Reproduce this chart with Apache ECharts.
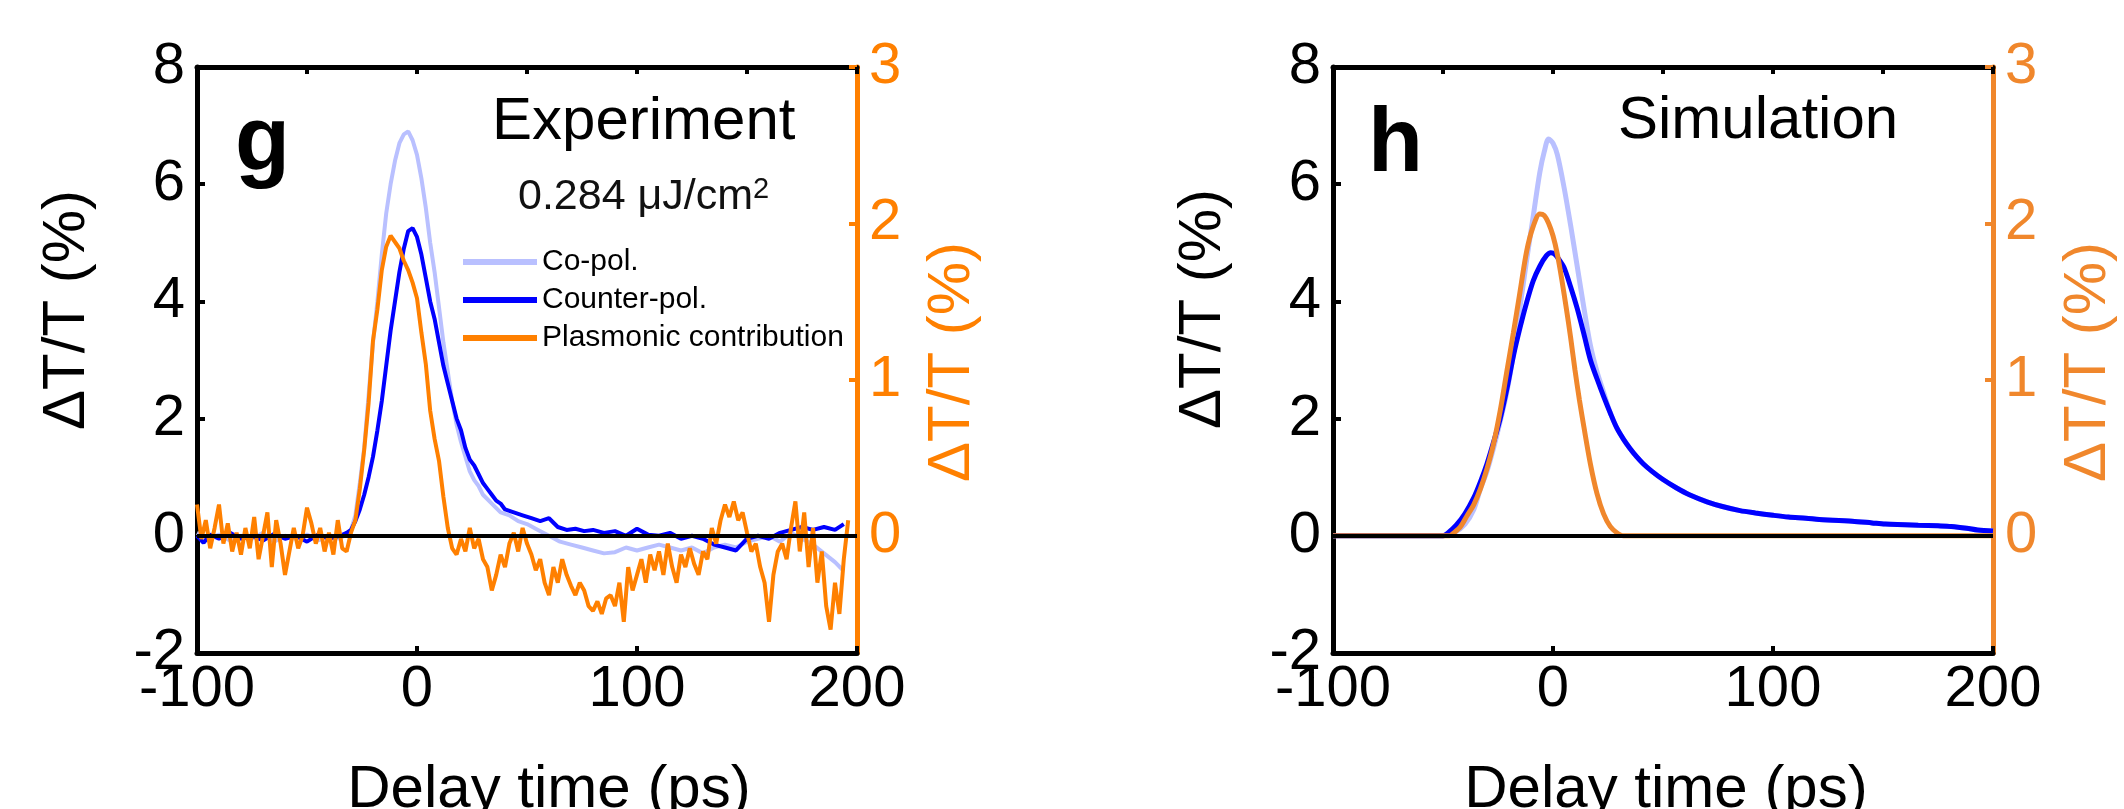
<!DOCTYPE html>
<html lang="en">
<head>
	<meta charset="UTF-8">
	<title>Delay time traces</title>
	<style>
		body { margin: 0; background: #fff; }
	</style>
</head>
<body>
<div id="chart" style="width:2124px;height:809px;"></div>
<script src="https://cdn.jsdelivr.net/npm/echarts@6/dist/echarts.min.js"></script>
<script>
	// panel g : experiment
	var gTimeOrange = [
		-100, -98, -96, -94, -92, -90, -88, -86, -84, -82, -80, -78, -76, -74, -72, -70, -68, -66, -64, -62,
		-60, -58, -56, -54, -52, -50, -48, -46, -44, -42, -40, -38, -36, -34, -32, -30, -28, -26, -24, -22,
		-20, -18, -16, -14, -12, -10, -8, -6, -4, -2, 0, 2, 4, 6, 8, 10, 12, 14, 16, 18,
		20, 22, 24, 26, 28, 30, 32, 34, 36, 38, 40, 42, 44, 46, 48, 50, 52, 54, 56, 58,
		60, 62, 64, 66, 68, 70, 72, 74, 76, 78, 80, 82, 84, 86, 88, 90, 92, 94, 96, 98,
		100, 102, 104, 106, 108, 110, 112, 114, 116, 118, 120, 122, 124, 126, 128, 130, 132, 134, 136, 138,
		140, 142, 144, 146, 148, 150, 152, 154, 156, 158, 160, 162, 164, 166, 168, 170, 172, 174, 176, 178,
		180, 182, 184, 186, 188, 190, 192, 194, 196
	];
	var gPlasmonic = [
		0.2, -0.02, 0.1, -0.08, 0.05, 0.2, -0.05, 0.08, -0.1, 0.02, -0.12, 0.05, -0.08, 0.12, -0.15, 0.0, 0.15, -0.2, 0.1, -0.05,
		-0.25, -0.1, 0.05, -0.08, 0.0, 0.18, 0.08, -0.05, 0.05, -0.1, 0.02, -0.12, 0.1, -0.08, -0.1, 0.02, 0.1, 0.3, 0.55, 0.85,
		1.25, 1.45, 1.7, 1.85, 1.92, 1.88, 1.84, 1.76, 1.7, 1.62, 1.52, 1.3, 1.1, 0.8, 0.62, 0.48, 0.25, 0.05, -0.08, -0.12,
		-0.02, -0.1, 0.05, -0.08, -0.02, -0.15, -0.2, -0.35, -0.25, -0.12, -0.2, -0.05, 0.02, -0.1, 0.05, -0.05, -0.12, -0.22, -0.15, -0.3,
		-0.38, -0.2, -0.3, -0.15, -0.25, -0.32, -0.38, -0.3, -0.35, -0.45, -0.48, -0.42, -0.5, -0.4, -0.38, -0.45, -0.3, -0.55, -0.2, -0.35,
		-0.25, -0.15, -0.3, -0.12, -0.22, -0.1, -0.25, -0.05, -0.2, -0.3, -0.12, -0.2, -0.08, -0.18, -0.25, -0.1, -0.15, 0.05, -0.05, 0.1,
		0.2, 0.12, 0.22, 0.1, 0.15, 0.02, -0.1, -0.05, -0.2, -0.3, -0.55, -0.25, -0.1, -0.05, -0.15, 0.05, 0.22, -0.1, 0.15, -0.2,
		0.05, -0.3, -0.1, -0.45, -0.6, -0.3, -0.5, -0.15, 0.1
	];
	var gTimeCo = [
		-100, -95, -90, -85, -80, -75, -70, -65, -60, -55, -50, -45, -40, -35, -30, -28, -26, -24, -22, -20,
		-18, -16, -14, -12, -10, -8, -6, -4, -2, 0, 2, 4, 6, 8, 10, 12, 14, 16, 18, 20,
		22, 24, 26, 28, 30, 34, 38, 42, 46, 50, 55, 60, 65, 70, 75, 80, 85, 90, 95, 100,
		105, 110, 115, 120, 125, 130, 135, 140, 145, 150, 155, 160, 165, 170, 175, 180, 185, 190, 194
	];
	var gCoPol = [
		0.05, -0.05, 0.02, -0.08, 0.0, -0.05, 0.05, -0.1, 0.0, -0.05, 0.02, -0.08, 0.0, -0.05, 0.1, 0.35, 0.9, 1.5, 2.4, 3.3,
		4.0, 4.8, 5.5, 6.0, 6.4, 6.7, 6.85, 6.9, 6.75, 6.5, 6.1, 5.6, 5.0, 4.5, 3.9, 3.3, 2.8, 2.3, 1.9, 1.6,
		1.35, 1.1, 0.95, 0.85, 0.7, 0.55, 0.4, 0.35, 0.25, 0.2, 0.1, 0.0, -0.1, -0.15, -0.2, -0.25, -0.3, -0.28, -0.2, -0.25,
		-0.2, -0.15, -0.2, -0.25, -0.2, -0.3, -0.2, -0.15, -0.2, -0.1, -0.05, 0.0, -0.1, 0.05, -0.05, -0.15, -0.3, -0.45, -0.6
	];
	var gTimeCounter = [
		-100, -97, -94, -90, -85, -80, -75, -70, -65, -60, -55, -50, -45, -40, -35, -32, -30, -28, -26, -24,
		-22, -20, -18, -16, -14, -12, -10, -8, -6, -4, -2, 0, 2, 4, 6, 8, 10, 12, 14, 16,
		18, 20, 22, 24, 26, 28, 30, 32, 34, 36, 38, 40, 44, 48, 52, 56, 60, 64, 68, 72,
		76, 80, 85, 90, 95, 100, 105, 110, 115, 120, 125, 130, 135, 140, 145, 150, 155, 160, 165, 170,
		175, 180, 185, 190, 194
	];
	var gCounterPol = [
		0.0, -0.12, 0.02, -0.05, 0.05, -0.05, 0.0, -0.08, 0.03, -0.05, 0.0, -0.1, 0.02, -0.05, 0.0, 0.05, 0.1, 0.25, 0.45, 0.7,
		1.0, 1.35, 1.8, 2.3, 2.9, 3.5, 4.0, 4.5, 4.9, 5.2, 5.25, 5.1, 4.8, 4.4, 4.0, 3.7, 3.3, 2.9, 2.6, 2.3,
		2.0, 1.8, 1.5, 1.3, 1.2, 1.05, 0.9, 0.8, 0.7, 0.6, 0.55, 0.45, 0.4, 0.35, 0.3, 0.25, 0.3, 0.15, 0.1, 0.12,
		0.08, 0.1, 0.05, 0.08, 0.0, 0.12, 0.02, 0.0, 0.05, -0.05, 0.0, -0.05, -0.15, -0.2, -0.25, -0.05, 0.0, -0.05, 0.05, 0.1,
		0.15, 0.1, 0.15, 0.1, 0.2
	];

	// panel h : simulation
	var hTimeCo = [
		-100, -50, -45, -40, -36, -33, -30, -27, -24, -21, -18, -15, -12, -9, -6, -4, -2, 0, 2, 5,
		8, 11, 14, 17, 20, 23, 26, 29, 32, 35, 38, 41, 45, 50, 56, 62, 70, 77, 85, 92,
		100, 107, 115, 121, 130, 136, 145, 151, 160, 166, 175, 181, 188, 193, 200
	];
	var hCoPol = [
		0, 0, 0.05, 0.2, 0.45, 0.8, 1.1, 1.5, 1.95, 2.45, 3.1, 3.9, 4.7, 5.45, 6.2, 6.55, 6.77, 6.7, 6.5, 5.95,
		5.3, 4.6, 3.9, 3.25, 2.8, 2.45, 2.1, 1.84, 1.65, 1.49, 1.35, 1.23, 1.1, 0.96, 0.82, 0.7, 0.58, 0.5, 0.43, 0.39,
		0.35, 0.32, 0.3, 0.28, 0.26, 0.25, 0.22, 0.2, 0.19, 0.18, 0.17, 0.16, 0.13, 0.1, 0.08
	];
	var hTimeCounter = [
		-100, -50, -48, -44, -40, -36, -33, -30, -27, -24, -21, -18, -15, -12, -9, -6, -3, -1, 1, 3,
		5, 8, 11, 14, 17, 20, 23, 26, 29, 32, 35, 38, 41, 45, 50, 56, 62, 70, 77, 85,
		92, 100, 107, 115, 121, 130, 136, 145, 151, 160, 166, 175, 181, 188, 193, 200
	];
	var hCounterPol = [
		0, 0, 0.04, 0.18, 0.38, 0.65, 0.92, 1.23, 1.6, 2.0, 2.5, 3.07, 3.55, 3.98, 4.35, 4.6, 4.78, 4.83, 4.8, 4.7,
		4.58, 4.25, 3.88, 3.45, 3.0, 2.68, 2.38, 2.1, 1.84, 1.65, 1.49, 1.35, 1.23, 1.1, 0.96, 0.82, 0.7, 0.58, 0.5, 0.43,
		0.39, 0.35, 0.32, 0.3, 0.28, 0.26, 0.25, 0.22, 0.2, 0.19, 0.18, 0.17, 0.16, 0.13, 0.1, 0.08
	];
	var hTimeOrange = [
		-100, -47, -45, -42, -39, -36, -33, -30, -27, -24, -21, -18, -15, -12, -9, -6, -4, -2, 0, 2,
		4, 6, 8, 10, 12, 14, 17, 20, 23, 26, 29, 32, 200
	];
	var hPlasmonic = [
		0, 0, 0.02, 0.06, 0.13, 0.2, 0.3, 0.43, 0.59, 0.8, 1.05, 1.3, 1.56, 1.82, 1.98, 2.06, 2.05, 2.0, 1.92, 1.8,
		1.64, 1.46, 1.27, 1.06, 0.87, 0.7, 0.46, 0.27, 0.14, 0.06, 0.02, 0, 0
	];

	var xTicksTop = [-100, -50, 0, 50, 100, 150, 200];
	var rightTicks = [0, 1, 2, 3];
	var legendNames = ['Co-pol.', 'Counter-pol.', 'Plasmonic contribution'];

	var FONT = "'Liberation Sans', Arial, sans-serif";
	var ORANGE_G = '#ff8000';
	var ORANGE_H = '#f0872c';
	var LIGHT = '#b9c0ff';
	var BLUE = '#0000ff';

	function pairs(t, v) {
		return t.map(function (x, i) { return [x, v[i]]; });
	}

	var grids = [
		{left: 197, top: 67, width: 660, height: 586},
		{left: 1333, top: 67, width: 660, height: 586}
	];

	function bottomAxis(gi) {
		return {
			type: 'value', gridIndex: gi, position: 'bottom',
			min: -100, max: 200, interval: 100,
			axisLine: {show: true, onZero: false, lineStyle: {color: '#000', width: 5}},
			axisTick: {inside: true, length: 7, lineStyle: {color: '#000', width: 4}},
			axisLabel: {fontSize: 58, color: '#000', fontFamily: FONT, margin: 8},
			splitLine: {show: false}
		};
	}
	function topAxis(gi) {
		return {
			type: 'value', gridIndex: gi, position: 'top',
			min: -100, max: 200,
			axisLine: {show: true, onZero: false, lineStyle: {color: '#000', width: 5}},
			axisTick: {inside: true, length: 7, customValues: xTicksTop, lineStyle: {color: '#000', width: 4}},
			axisLabel: {show: false},
			splitLine: {show: false}
		};
	}
	function leftAxis(gi) {
		return {
			type: 'value', gridIndex: gi, position: 'left',
			min: -2, max: 8, interval: 2,
			axisLine: {show: true, onZero: false, lineStyle: {color: '#000', width: 5}},
			axisTick: {inside: true, length: 8, lineStyle: {color: '#000', width: 4}},
			axisLabel: {fontSize: 58, color: '#000', fontFamily: FONT, margin: 12, padding: [0, 0, 20, 0]},
			splitLine: {show: false}
		};
	}
	function rightAxis(gi, color) {
		return {
			type: 'value', gridIndex: gi, position: 'right',
			min: -0.75, max: 3,
			axisLine: {show: true, onZero: false, lineStyle: {color: color, width: 5}},
			axisTick: {inside: true, length: 8, customValues: rightTicks, lineStyle: {color: color, width: 4}},
			axisLabel: {fontSize: 58, color: color, fontFamily: FONT, margin: 12, customValues: rightTicks},
			splitLine: {show: false}
		};
	}

	function text(x, y, str, size, color, extra) {
		var st = {text: str, fontSize: size, fontFamily: FONT, fill: color, textAlign: 'left', textVerticalAlign: 'middle'};
		for (var k in (extra || {})) st[k] = extra[k];
		return {type: 'text', x: x, y: y, style: st, z: 100};
	}
	function vtext(x, y, str, color) {
		return {type: 'text', x: x, y: y, rotation: Math.PI / 2,
			style: {text: str, fontSize: 60, fontFamily: FONT, fill: color, textAlign: 'center', textVerticalAlign: 'middle'}, z: 100};
	}

	var zeroLine = {
		silent: true, symbol: ['none', 'none'], animation: false,
		label: {show: false},
		lineStyle: {color: '#000', width: 4, type: 'solid'},
		data: [{yAxis: 0}]
	};

	var myChart = echarts.init(document.getElementById('chart'));
	var option = {
		animation: false,
		backgroundColor: '#fff',
		grid: grids,
		xAxis: [bottomAxis(0), topAxis(0), bottomAxis(1), topAxis(1)],
		yAxis: [leftAxis(0), rightAxis(0, ORANGE_G), leftAxis(1), rightAxis(1, ORANGE_H)],
		legend: {
			data: legendNames,
			orient: 'vertical', left: 458, top: 242,
			icon: 'rect', itemWidth: 74, itemHeight: 6, itemGap: 8,
			selectedMode: false,
			textStyle: {fontSize: 30, color: '#000', fontFamily: FONT, lineHeight: 30}
		},
		series: [
			{name: 'Co-pol.', type: 'line', xAxisIndex: 0, yAxisIndex: 0, symbol: 'none',
				lineStyle: {color: LIGHT, width: 4}, itemStyle: {color: LIGHT},
				data: pairs(gTimeCo, gCoPol), markLine: zeroLine},
			{name: 'Counter-pol.', type: 'line', xAxisIndex: 0, yAxisIndex: 0, symbol: 'none',
				lineStyle: {color: BLUE, width: 4}, itemStyle: {color: BLUE},
				data: pairs(gTimeCounter, gCounterPol)},
			{name: 'Plasmonic contribution', type: 'line', xAxisIndex: 0, yAxisIndex: 1, symbol: 'none',
				lineStyle: {color: ORANGE_G, width: 4}, itemStyle: {color: ORANGE_G},
				data: pairs(gTimeOrange, gPlasmonic)},
			{name: 'Co-pol. sim', type: 'line', xAxisIndex: 2, yAxisIndex: 2, symbol: 'none', smooth: 0.3,
				lineStyle: {color: LIGHT, width: 5},
				data: pairs(hTimeCo, hCoPol), markLine: zeroLine},
			{name: 'Counter-pol. sim', type: 'line', xAxisIndex: 2, yAxisIndex: 2, symbol: 'none', smooth: 0.3,
				lineStyle: {color: BLUE, width: 5},
				data: pairs(hTimeCounter, hCounterPol)},
			{name: 'Plasmonic sim', type: 'line', xAxisIndex: 2, yAxisIndex: 3, symbol: 'none', smooth: 0.3,
				lineStyle: {color: ORANGE_H, width: 5},
				data: pairs(hTimeOrange, hPlasmonic)}
		],
		graphic: [
			text(235, 145, 'g', 90, '#000', {fontWeight: 'bold'}),
			text(492, 122, 'Experiment', 60, '#000'),
			text(518, 197, '{a|0.284 \u03bcJ/cm}{s|2}', 43, '#111', {
				rich: {a: {fontSize: 43, fontFamily: FONT, fill: '#111'},
					s: {fontSize: 29, fontFamily: FONT, fill: '#111', verticalAlign: 'top'}}
			}),
			text(1368, 146, 'h', 90, '#000', {fontWeight: 'bold'}),
			text(1618, 121, 'Simulation', 60, '#000'),
			vtext(67, 310, '\u0394T/T (%)', '#000'),
			vtext(952, 362, '\u0394T/T (%)', ORANGE_G),
			vtext(1203, 309, '\u0394T/T (%)', '#000'),
			vtext(2088, 362, '\u0394T/T (%)', ORANGE_H),
			text(549, 790, 'Delay time (ps)', 60, '#000', {textAlign: 'center'}),
			text(1666, 790, 'Delay time (ps)', 60, '#000', {textAlign: 'center'})
		]
	};
	myChart.setOption(option);
</script>
</body>
</html>
